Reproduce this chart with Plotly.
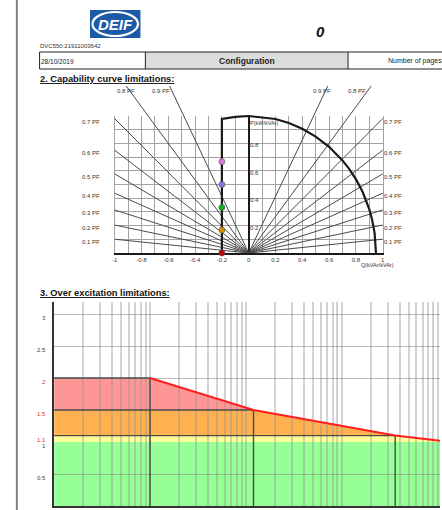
import math
import plotly.graph_objects as go

W, H = 442, 510
FONT = "Liberation Sans, Arial, sans-serif"

# ---------------- data ----------------
doc_id = "DVC550:21911003642"
doc_date = "28/10/2019"
doc_title = "Configuration"
pages_label = "Number of pages"
page_value = "0"
logo_text = "DEIF"
title_cap = "2. Capability curve limitations:"
title_oe = "3. Over excitation limitations:"

# capability chart
pf_values = [0.1, 0.2, 0.3, 0.4, 0.5, 0.6, 0.7, 0.8, 0.9]
q_tick_vals = [-1, -0.8, -0.6, -0.4, -0.2, 0, 0.2, 0.4, 0.6, 0.8, 1]
q_tick_text = ["-1", "-0.8", "-0.6", "-0.4", "-0.2", "0", "0.2", "0.4", "0.6", "0.8", "1"]
p_tick_vals = [0.2, 0.4, 0.6, 0.8]
p_tick_text = ["0.2", "0.4", "0.6", "0.8"]
cap_q = [-0.2, -0.2, -0.1, 0.0, 0.2, 0.3, 0.4, 0.5, 0.6, 0.7, 0.75, 0.8, 0.85, 0.9, 0.92, 0.94, 0.95]
cap_p = [0.0, 0.978, 0.994, 1.0, 0.978, 0.949, 0.907, 0.850, 0.775, 0.676, 0.614, 0.539, 0.447, 0.320, 0.249, 0.145, 0.0]
op_q = [-0.2, -0.2, -0.2, -0.2, -0.2]
op_p = [0.0, 0.167, 0.333, 0.5, 0.667]
op_colors = ["#c00000", "#e08a00", "#12b012", "#7878e8", "#e078e0"]
p_axis_label = "P(kW/kVAr)"
q_axis_label = "Q(kVAr/kVAr)"

# over-excitation chart
oe_time_start = 1
limit_time = [10, 120, 3600, 13800]
limit_level = [2.0, 1.5, 1.1, 1.0]
band_lo = [0.0, 1.0, 1.1, 1.5]
band_hi = [1.0, 1.1, 1.5, 2.0]
band_colors = ["rgba(115,255,115,0.75)", "rgba(255,255,119,0.75)",
               "rgba(255,156,35,0.8)", "rgba(255,110,110,0.72)"]
oe_tick_vals = [3, 2.5, 2, 1.5, 1.1, 1, 0.5]
oe_tick_text = ["3", "2.5", "2", "1.5", "1.1", "1", "0.5"]
oe_tick_colors = ["#444", "#444", "#e03030", "#e03030", "#e03030", "#444", "#444"]


def px(x):
    return x / W


def py(y):
    return 1 - y / H


fig = go.Figure()

# ---------- capability chart: grid subplot (x, y) and overlay subplot (x3, y3) ----------
cap_x0, cap_x1 = 113, 384
cap_bottom, cap_top, cap_ext_top = 253, 116, 86
p_ext_max = (cap_bottom - cap_ext_top) / (cap_bottom - cap_top)

# PF lines
for pf in pf_values:
    slope = pf / math.sqrt(1 - pf * pf)
    fig.add_trace(go.Scatter(x=[-3, 0, 3], y=[3 * slope, 0, 3 * slope], mode="lines",
                             line=dict(color="#4a4a4a", width=1), xaxis="x3", yaxis="y3",
                             hoverinfo="skip", showlegend=False))

# capability curve
fig.add_trace(go.Scatter(x=cap_q, y=cap_p, mode="lines", line=dict(color="#1a1a1a", width=2.2),
                         xaxis="x3", yaxis="y3", showlegend=False, hoverinfo="skip"))
# operating points
fig.add_trace(go.Scatter(x=op_q, y=op_p, mode="markers",
                         marker=dict(size=6, color=op_colors, line=dict(color="#555", width=0.6)),
                         xaxis="x3", yaxis="y3", cliponaxis=False, showlegend=False))

annotations = []
for pf in pf_values:
    slope = pf / math.sqrt(1 - pf * pf)
    lab = f"{pf} PF"
    if slope <= 1:
        annotations.append(dict(x=1, y=slope, xref="x3", yref="y3", text=lab, showarrow=False,
                                xanchor="left", yanchor="middle", xshift=-1, yshift=-3,
                                font=dict(size=6, color="#333", family=FONT)))
        annotations.append(dict(x=-1, y=slope, xref="x3", yref="y3", text=lab, showarrow=False,
                                xanchor="right", yanchor="middle", xshift=-13, yshift=-3,
                                font=dict(size=6, color="#333", family=FONT)))
    else:
        qe = p_ext_max / slope
        shift_r = {0.8: -3, 0.9: 5}[pf]
        shift_l = {0.8: 11, 0.9: 2}[pf]
        annotations.append(dict(x=qe, y=p_ext_max, xref="x3", yref="y3", text=lab, showarrow=False,
                                xanchor="right", yanchor="middle", xshift=shift_r, yshift=-5,
                                font=dict(size=6, color="#333", family=FONT)))
        annotations.append(dict(x=-qe, y=p_ext_max, xref="x3", yref="y3", text=lab, showarrow=False,
                                xanchor="right", yanchor="middle", xshift=shift_l, yshift=-5,
                                font=dict(size=6, color="#333", family=FONT)))

for v, t in zip(p_tick_vals, p_tick_text):
    annotations.append(dict(x=0, y=v, xref="x", yref="y", text=t, showarrow=False,
                            xanchor="left", yanchor="middle", xshift=-1, yshift=-2,
                            font=dict(size=6, color="#333", family=FONT)))
annotations.append(dict(x=0, y=1, xref="x", yref="y", text=p_axis_label, showarrow=False,
                        xanchor="left", yanchor="middle", xshift=-1, yshift=-7,
                        font=dict(size=5.5, color="#333", family=FONT)))
annotations.append(dict(x=px(398), y=py(265), xref="paper", yref="paper", text=q_axis_label,
                        showarrow=False, xanchor="right", yanchor="middle",
                        font=dict(size=5.5, color="#333", family=FONT)))

# ---------- over-excitation chart: fills (x2, y2), grid + lines (x4, y4) ----------
oe_left, oe_bottom, oe_top = 51.7, 506, 301.7
oe_ymax = (oe_bottom - oe_top) / 64.0
oe_xmax = (W - oe_left) / 97.0

for lo, hi, col in zip(band_lo, band_hi, band_colors):
    xs, ys = [oe_time_start], [hi]
    for t, l in zip(limit_time, limit_level):
        if lo <= l <= hi:
            xs.append(t)
            ys.append(l)
    xs += [xs[-1], oe_time_start]
    ys += [lo, lo]
    fig.add_trace(go.Scatter(x=xs, y=ys, mode="lines", fill="toself", fillcolor=col,
                             line=dict(width=0), xaxis="x2", yaxis="y2",
                             hoverinfo="skip", showlegend=False))

# band borders at break points
bx, by = [], []
for t, l in zip(limit_time[:-1], limit_level[:-1]):
    bx += [oe_time_start, t, None, t, t, None]
    by += [l, l, None, 0, l, None]
fig.add_trace(go.Scatter(x=bx, y=by, mode="lines", line=dict(color="#4a4a4a", width=1.4),
                         xaxis="x4", yaxis="y4", hoverinfo="skip", showlegend=False))
# limit curve
fig.add_trace(go.Scatter(x=limit_time, y=limit_level, mode="lines",
                         line=dict(color="#ff1e1e", width=2), xaxis="x4", yaxis="y4",
                         hoverinfo="skip", showlegend=False))

for v, t, c in zip(oe_tick_vals, oe_tick_text, oe_tick_colors):
    annotations.append(dict(x=px(46), y=v, xref="paper", yref="y4", text=t, showarrow=False,
                            xanchor="right", yanchor="middle", yshift=-4,
                            font=dict(size=6, color=c, family=FONT)))

log_grid = [d * 10 ** k for k in range(0, 5) for d in range(1, 10)]

# ---------- header / page decoration ----------
shapes = [
    dict(type="line", xref="paper", yref="paper", x0=px(14), x1=px(14), y0=0, y1=1,
         line=dict(color="#808080", width=2)),
    dict(type="rect", xref="paper", yref="paper", x0=px(88), x1=px(139), y0=py(38), y1=py(10),
         fillcolor="#1d5aa6", line=dict(width=0)),
    dict(type="circle", xref="paper", yref="paper", x0=px(90.5), x1=px(136.5), y0=py(36), y1=py(12),
         fillcolor="rgba(0,0,0,0)", line=dict(color="white", width=2.2)),
    dict(type="rect", xref="paper", yref="paper", x0=px(144), x1=px(349), y0=py(69), y1=py(52),
         fillcolor="#dcdcdc", line=dict(width=0)),
    dict(type="rect", xref="paper", yref="paper", x0=px(37), x1=px(450), y0=py(69), y1=py(52),
         fillcolor="rgba(0,0,0,0)", line=dict(color="#222", width=1)),
    dict(type="line", xref="paper", yref="paper", x0=px(144), x1=px(144), y0=py(69), y1=py(52),
         line=dict(color="#222", width=1)),
    dict(type="line", xref="paper", yref="paper", x0=px(349), x1=px(349), y0=py(69), y1=py(52),
         line=dict(color="#222", width=1)),
]

annotations += [
    dict(x=px(113.5), y=py(24.5), xref="paper", yref="paper", text=f"<b><i>{logo_text}</i></b>",
         showarrow=False, xanchor="center", yanchor="middle",
         font=dict(size=15, color="white", family=FONT)),
    dict(x=px(321), y=py(31), xref="paper", yref="paper", text=f"<b><i>{page_value}</i></b>",
         showarrow=False, xanchor="center", yanchor="middle",
         font=dict(size=15, color="#111", family=FONT)),
    dict(x=px(35), y=py(46), xref="paper", yref="paper", text=doc_id, showarrow=False,
         xanchor="left", yanchor="middle", font=dict(size=6, color="#333", family=FONT)),
    dict(x=px(36), y=py(61), xref="paper", yref="paper", text=doc_date, showarrow=False,
         xanchor="left", yanchor="middle", font=dict(size=6.5, color="#222", family=FONT)),
    dict(x=px(247), y=py(61), xref="paper", yref="paper", text=f"<b>{doc_title}</b>", showarrow=False,
         xanchor="center", yanchor="middle", font=dict(size=8.5, color="#222", family=FONT)),
    dict(x=px(387), y=py(61), xref="paper", yref="paper", text=pages_label, showarrow=False,
         xanchor="left", yanchor="middle", font=dict(size=7, color="#222", family=FONT)),
    dict(x=px(35), y=py(79), xref="paper", yref="paper", text=f"<b><u>{title_cap}</u></b>",
         showarrow=False, xanchor="left", yanchor="middle", font=dict(size=9.3, color="#111", family=FONT)),
    dict(x=px(35), y=py(293), xref="paper", yref="paper", text=f"<b><u>{title_oe}</u></b>",
         showarrow=False, xanchor="left", yanchor="middle", font=dict(size=9.3, color="#111", family=FONT)),
]

grid01 = [round(-1 + 0.1 * i, 1) for i in range(21)]
grid_text = [q_tick_text[q_tick_vals.index(g)] if g in q_tick_vals else "" for g in grid01]
pgrid = [round(0.1 * i, 1) for i in range(11)]

fig.update_layout(
    width=W, height=H, margin=dict(l=0, r=0, t=0, b=0),
    paper_bgcolor="white", plot_bgcolor="rgba(0,0,0,0)",
    showlegend=False, font=dict(family=FONT),
    shapes=shapes, annotations=annotations,
    xaxis=dict(domain=[px(cap_x0), px(cap_x1)], range=[-1, 1], anchor="y",
               tickvals=grid01, ticktext=grid_text, ticks="", tickfont=dict(size=6, color="#333"),
               showgrid=True, gridcolor="#a3a3a3", gridwidth=1,
               zeroline=True, zerolinecolor="#1a1a1a", zerolinewidth=2.2,
               showline=True, linecolor="#1a1a1a", linewidth=2.2),
    yaxis=dict(domain=[py(cap_bottom), py(cap_top)], range=[0, 1], anchor="x",
               tickvals=pgrid, showticklabels=False, ticks="",
               showgrid=True, gridcolor="#a3a3a3", gridwidth=1, zeroline=False,
               showline=True, mirror=True, linecolor="#a3a3a3", linewidth=1),
    xaxis3=dict(domain=[px(cap_x0), px(cap_x1)], range=[-1, 1], anchor="y3", visible=False),
    yaxis3=dict(domain=[py(cap_bottom), py(cap_ext_top)], range=[0, p_ext_max], anchor="x3", visible=False),
    xaxis2=dict(domain=[px(oe_left), 1], type="log", range=[0, oe_xmax], anchor="y2", visible=False),
    yaxis2=dict(domain=[py(oe_bottom), py(oe_top)], range=[0, oe_ymax], anchor="x2", visible=False),
    xaxis4=dict(domain=[px(oe_left), 1], type="log", range=[0, oe_xmax], anchor="y4",
                tickvals=log_grid, showticklabels=False, ticks="",
                showgrid=True, gridcolor="rgba(150,150,150,0.42)", gridwidth=1.6,
                zeroline=False, showline=True, linecolor="#333", linewidth=2),
    yaxis4=dict(domain=[py(oe_bottom), py(oe_top)], range=[0, oe_ymax], anchor="x4",
                tickvals=[0.5, 2, 2.5, 3], showticklabels=False, ticks="",
                showgrid=True, gridcolor="rgba(130,130,130,0.55)", gridwidth=1.4,
                zeroline=False, showline=True, linecolor="#333", linewidth=2),
)

fig.write_html("out.html", config={"displayModeBar": False},
               post_script="document.body.style.margin='0px';document.body.style.overflow='hidden';")
